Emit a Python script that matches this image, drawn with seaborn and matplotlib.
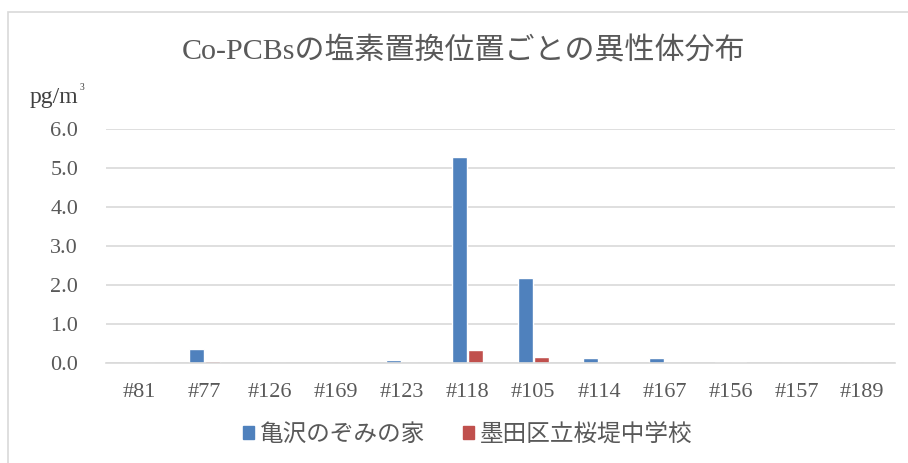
import pandas as pd
import matplotlib.pyplot as plt
import seaborn as sns
from matplotlib.patches import Rectangle

# Data
isomers = ["#81", "#77", "#126", "#169", "#123", "#118", "#105", "#114", "#167", "#156", "#157", "#189"]
kamezawa = [0.0, 0.36, 0.0, 0.0, 0.08, 5.3, 2.2, 0.14, 0.14, 0.03, 0.0, 0.0]
sakurazutsumi = [0.0, 0.06, 0.0, 0.0, 0.0, 0.33, 0.15, 0.0, 0.0, 0.03, 0.0, 0.0]
series_names = ["亀沢のぞみの家", "墨田区立桜堤中学校"]
colors = ["#4f81bd", "#c0504d"]

df = pd.DataFrame({
    "isomer": isomers * 2,
    "value": kamezawa + sakurazutsumi,
    "site": [series_names[0]] * len(isomers) + [series_names[1]] * len(isomers),
})

sns.set_theme(style="white")
plt.rcParams["font.family"] = ["Liberation Serif", "Noto Sans CJK JP", "DejaVu Sans"]

fig = plt.figure(figsize=(9.08, 4.63), dpi=100)
ax = fig.add_axes([0.1167, 0.2153, 0.869, 0.5054])

sns.barplot(data=df, x="isomer", y="value", hue="site", order=isomers,
            hue_order=series_names, palette=colors,
            width=0.5, gap=0.09, ax=ax, legend=False, saturation=1)

ax.set_ylim(0, 6)
ax.set_yticks([0, 1, 2, 3, 4, 5, 6])
ax.set_yticklabels([f"{v:.1f}" for v in range(7)])
ax.set_xlabel("")
ax.set_ylabel("")
ax.grid(axis="y", color="#d9d9d9", linewidth=1.2)
ax.set_axisbelow(True)
for side in ["top", "right", "left"]:
    ax.spines[side].set_visible(False)
ax.spines["bottom"].set_color("#d9d9d9")
ax.spines["bottom"].set_linewidth(1.2)
ax.tick_params(axis="both", length=0, labelsize=16, colors="#595959")
ax.tick_params(axis="y", pad=20)
ax.tick_params(axis="x", pad=14)
ax.set_xlim(-0.5, len(isomers) - 0.5)

fig.text(0.51, 0.888, "Co-PCBsの塩素置換位置ごとの異性体分布", ha="center", va="center",
         fontsize=21.6, color="#595959")

# y unit label with small superscript
unit = fig.text(0.033, 0.79, "pg/m", ha="left", va="center", fontsize=17, color="#404040")
ax.annotate("3", xy=(1, 1), xycoords=unit, xytext=(0.5, 3), textcoords="offset points",
            ha="left", va="top", fontsize=7, color="#404040")

# legend
handles = [Rectangle((0, 0), 1, 1, color=c) for c in colors]
fig.legend(handles, series_names, loc="center", bbox_to_anchor=(0.515, 0.062), ncol=2,
           frameon=False, handlelength=0.45, handleheight=0.45,
           handletextpad=0.25, columnspacing=1.6, labelcolor="#595959",
           prop={"family": ["Noto Sans CJK JP"], "size": 17})

# chart border
fig.add_artist(Rectangle((8 / 908, -0.05), 1.1, 1.05 - 12 / 463, transform=fig.transFigure,
                         fill=False, edgecolor="#d9d9d9", linewidth=1.2))

fig.savefig("out.png", dpi=100)
